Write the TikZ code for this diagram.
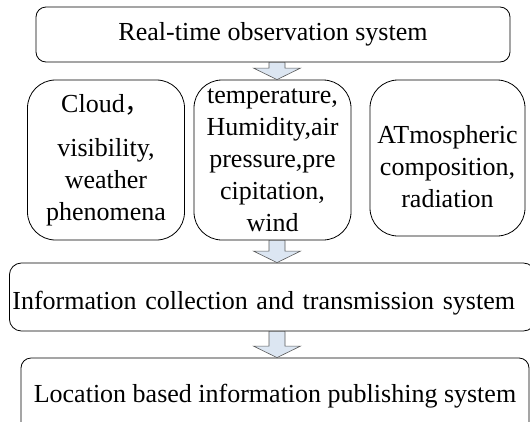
\documentclass[tikz,border=0pt]{standalone}
\usepackage{fontspec}
\setmainfont{Liberation Serif}
\newfontfamily\cjk{Noto Sans CJK SC}
\usetikzlibrary{calc}
\definecolor{arrowblue}{RGB}{220,230,242}

\begin{document}
\begin{tikzpicture}[x=1pt,y=-1pt,
  every node/.style={draw, align=center, inner sep=0pt, rounded corners=10pt, line width=0.8pt, font=\fontsize{26}{32}\selectfont},
  group/.style={rounded corners=28pt, minimum width=157pt, minimum height=160pt},
  blk/.style={draw=black!65, fill=arrowblue, line width=0.6pt}]
\useasboundingbox (0,0) rectangle (530,421);
\node[minimum width=474pt, minimum height=55pt] (obs) at (273,34.5) {Real-time observation system};
\node[group] (cloud) at (106,160) {Cloud{\cjk ，}\\[12pt] visibility,\\ weather\\ phenomena};
\node[group] (temp) at (272.5,160) {temperature,\\ Humidity,air\\ pressure,pre\\ cipitation,\\ wind};
\node[group, minimum width=155pt, minimum height=156pt] (atmo) at (447.5,158) {\rule{0pt}{36pt}ATmospheric\\ composition,\\ radiation};
\node[anchor=west, text width=520pt, align=left, inner xsep=3pt, minimum height=68pt, rounded corners=12pt] (coll) at (9,297) {\rule{0pt}{30pt}Information collection and transmission system};
\node[minimum width=508pt, minimum height=77pt] (pub) at (275,396.5) {Location based information publishing system};
% block arrows between the levels
\coordinate (ax) at (277,0);
\foreach \a/\b in {obs/temp, temp/coll, coll/pub}
  \draw[blk] let \p1=(ax |- \a.south), \p2=(ax |- \b.north) in
    (\x1-8pt,\y1) -- (\x1+8pt,\y1) -- (\x1+8pt,\y2+11.5pt) -- (\x1+23.5pt,\y2+11.5pt)
    -- (\p2) -- (\x1-23.5pt,\y2+11.5pt) -- (\x1-8pt,\y2+11.5pt) -- cycle;
\end{tikzpicture}
\end{document}
